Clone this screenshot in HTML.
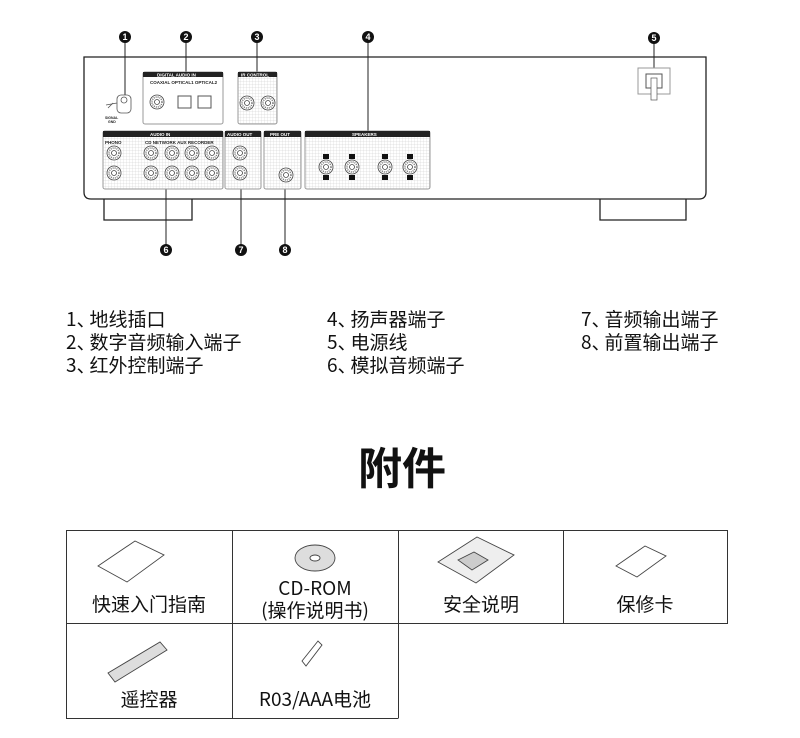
<!DOCTYPE html>
<html><head><meta charset="utf-8"><style>
html,body{margin:0;padding:0;background:#fff;width:800px;height:738px;overflow:hidden}
svg{display:block}
.t{font-family:"Noto Sans CJK SC","Liberation Sans",sans-serif;fill:#111}
.s{font-family:"Liberation Sans",sans-serif;font-weight:bold;fill:#222;font-size:4.5px}
.w{font-family:"Liberation Sans",sans-serif;font-weight:bold;fill:#fff;font-size:4.5px}
</style></head><body>
<svg width="800" height="738" viewBox="0 0 800 738" xmlns="http://www.w3.org/2000/svg">
<defs>
<pattern id="g" width="3" height="3" patternUnits="userSpaceOnUse"><path d="M0 0H3M0 0V3" stroke="#ccc" stroke-width="0.5"/></pattern>
<g id="rca"><circle r="7" fill="#fff" stroke="#444" stroke-width="0.8"/><circle r="5" fill="none" stroke="#777" stroke-width="1.5" stroke-dasharray="1 1"/><circle r="2.5" fill="#fff" stroke="#444" stroke-width="0.8"/></g>
<g id="num"><circle r="6" fill="#111"/></g>
</defs>
<path d="M104 198V220H192V198" fill="#fff" stroke="#222" stroke-width="1.3"/>
<path d="M600 198V220H686V198" fill="#fff" stroke="#222" stroke-width="1.3"/>
<path d="M84 57H706V192Q706 199 699 199H91Q84 199 84 192Z" fill="#fff" stroke="#222" stroke-width="1.3"/>
<g stroke="#222" stroke-width="1">
<line x1="125" y1="37" x2="125" y2="98"/><line x1="186" y1="37" x2="186" y2="72"/><line x1="257" y1="37" x2="257" y2="72"/><line x1="368" y1="37" x2="368" y2="131"/><line x1="654" y1="38" x2="654" y2="95"/>
<line x1="166" y1="189" x2="166" y2="250"/><line x1="241" y1="189" x2="241" y2="250"/><line x1="285" y1="189" x2="285" y2="250"/>
</g>
<g stroke="#555" stroke-width="0.8" fill="#fff"><rect x="117" y="95" width="14" height="18" rx="4"/><circle cx="124" cy="100" r="3"/><path d="M106 105L117 103M108 108L113 103"/></g>
<text class="s" x="105" y="119" style="font-size:3.5px">SIGNAL</text><text class="s" x="108" y="123" style="font-size:3.5px">GND</text>
<rect x="143" y="72" width="80" height="52" rx="2" fill="#fff" stroke="#999"/><rect x="143" y="72" width="80" height="5" fill="#222"/>
<text class="w" x="157" y="76.5">DIGITAL AUDIO IN</text>
<text class="s" x="150" y="84">COAXIAL OPTICAL1 OPTICAL2</text>
<use href="#rca" x="157" y="102"/><rect x="178" y="96" width="13" height="12" fill="#fff" stroke="#555"/><rect x="198" y="96" width="13" height="12" fill="#fff" stroke="#555"/>
<rect x="238" y="72" width="39" height="52" rx="2" fill="url(#g)" stroke="#999"/><rect x="238" y="72" width="39" height="5" fill="#222"/>
<text class="w" x="241" y="76.5">IR CONTROL</text>
<use href="#rca" x="247" y="103"/><use href="#rca" x="268" y="103"/>
<rect x="103" y="131" width="120" height="58" rx="2" fill="url(#g)" stroke="#999"/><rect x="103" y="131" width="120" height="6" fill="#222"/>
<text class="w" x="150" y="136">AUDIO IN</text>
<text class="s" x="105" y="144">PHONO</text><text class="s" x="145" y="144">CD NETWORK AUX RECORDER</text>
<use href="#rca" x="114" y="153"/><use href="#rca" x="114" y="173"/>
<use href="#rca" x="151" y="153"/><use href="#rca" x="151" y="173"/><use href="#rca" x="172" y="153"/><use href="#rca" x="172" y="173"/><use href="#rca" x="192" y="153"/><use href="#rca" x="192" y="173"/><use href="#rca" x="212" y="153"/><use href="#rca" x="212" y="173"/>
<rect x="225" y="131" width="36" height="58" rx="2" fill="url(#g)" stroke="#999"/><rect x="225" y="131" width="36" height="6" fill="#222"/>
<text class="w" x="227" y="136">AUDIO OUT</text>
<use href="#rca" x="240" y="153"/><use href="#rca" x="240" y="173"/>
<rect x="264" y="131" width="37" height="58" rx="2" fill="url(#g)" stroke="#999"/><rect x="264" y="131" width="37" height="6" fill="#222"/>
<text class="w" x="270" y="136">PRE OUT</text>
<use href="#rca" x="286" y="175"/>
<rect x="305" y="131" width="125" height="58" rx="2" fill="url(#g)" stroke="#999"/><rect x="305" y="131" width="125" height="6" fill="#222"/>
<text class="w" x="352" y="136">SPEAKERS</text>
<g><use href="#rca" x="326" y="167"/><use href="#rca" x="352" y="167"/><use href="#rca" x="385" y="167"/><use href="#rca" x="410" y="167"/></g>
<g fill="#111"><rect x="323" y="154" width="6" height="5"/><rect x="349" y="154" width="6" height="5"/><rect x="382" y="154" width="6" height="5"/><rect x="407" y="154" width="6" height="5"/><rect x="323" y="175" width="6" height="5"/><rect x="349" y="175" width="6" height="5"/><rect x="382" y="175" width="6" height="5"/><rect x="407" y="175" width="6" height="5"/></g>
<rect x="638" y="68" width="32" height="26" fill="#fff" stroke="#999"/><rect x="646" y="74" width="16" height="14" fill="none" stroke="#555"/><rect x="651" y="78" width="6" height="22" fill="#fff" stroke="#555" stroke-width="0.7"/>
<g fill="#fff" font-family="Liberation Sans" font-weight="bold" font-size="9" text-anchor="middle">
<use href="#num" x="125" y="37"/><text x="125" y="40">1</text>
<use href="#num" x="186" y="37"/><text x="186" y="40">2</text>
<use href="#num" x="257" y="37"/><text x="257" y="40">3</text>
<use href="#num" x="368" y="37"/><text x="368" y="40">4</text>
<use href="#num" x="654" y="38"/><text x="654" y="41">5</text>
<use href="#num" x="166" y="250"/><text x="166" y="253">6</text>
<use href="#num" x="241" y="250"/><text x="241" y="253">7</text>
<use href="#num" x="285" y="250"/><text x="285" y="253">8</text>
</g>
<g class="t" font-size="19">
<text x="66" y="326">1、<tspan dx="-6">地线插口</tspan></text><text x="66" y="349">2、<tspan dx="-6">数字音频输入端子</tspan></text><text x="66" y="372">3、<tspan dx="-6">红外控制端子</tspan></text>
<text x="327" y="326">4、<tspan dx="-6">扬声器端子</tspan></text><text x="327" y="349">5、<tspan dx="-6">电源线</tspan></text><text x="327" y="372">6、<tspan dx="-6">模拟音频端子</tspan></text>
<text x="581" y="326">7、<tspan dx="-6">音频输出端子</tspan></text><text x="581" y="349">8、<tspan dx="-6">前置输出端子</tspan></text>
</g>
<text class="t" x="402" y="484" font-size="44" font-weight="bold" text-anchor="middle">附件</text>
<g fill="none" stroke="#333" stroke-width="1">
<rect x="66.5" y="530.5" width="661" height="93"/>
<line x1="232.5" y1="530" x2="232.5" y2="718"/><line x1="398.5" y1="530" x2="398.5" y2="718"/><line x1="563.5" y1="530" x2="563.5" y2="623"/>
<path d="M66.5 623V718.5H398.5"/>
</g>
<g fill="#fff" stroke="#444" stroke-width="0.9">
<path d="M98 566L135 541L164 555L127 582Z"/>
<ellipse cx="315" cy="558" rx="20" ry="13" fill="#ddd"/><ellipse cx="315" cy="558" rx="5" ry="3"/>
<path d="M438 562L477 537L514 555L476 583Z" fill="#eee"/><path d="M458 560L474 552L488 560L472 570Z" fill="#ccc"/>
<path d="M616 566L645 546L666 556L637 577Z"/>
<path d="M108 673L160 642L167 650L115 682Z" fill="#ddd"/>
<path d="M302 661L318 641L322 645L306 666Z"/>
</g>
<g class="t" font-size="19" text-anchor="middle">
<text x="149" y="611">快速入门指南</text>
<text x="315" y="595">CD-ROM</text><text x="315" y="617">(操作说明书)</text>
<text x="481" y="611">安全说明</text>
<text x="645" y="611">保修卡</text>
<text x="149" y="706">遥控器</text>
<text x="315" y="706">R03/AAA电池</text>
</g>
</svg>
</body></html>
